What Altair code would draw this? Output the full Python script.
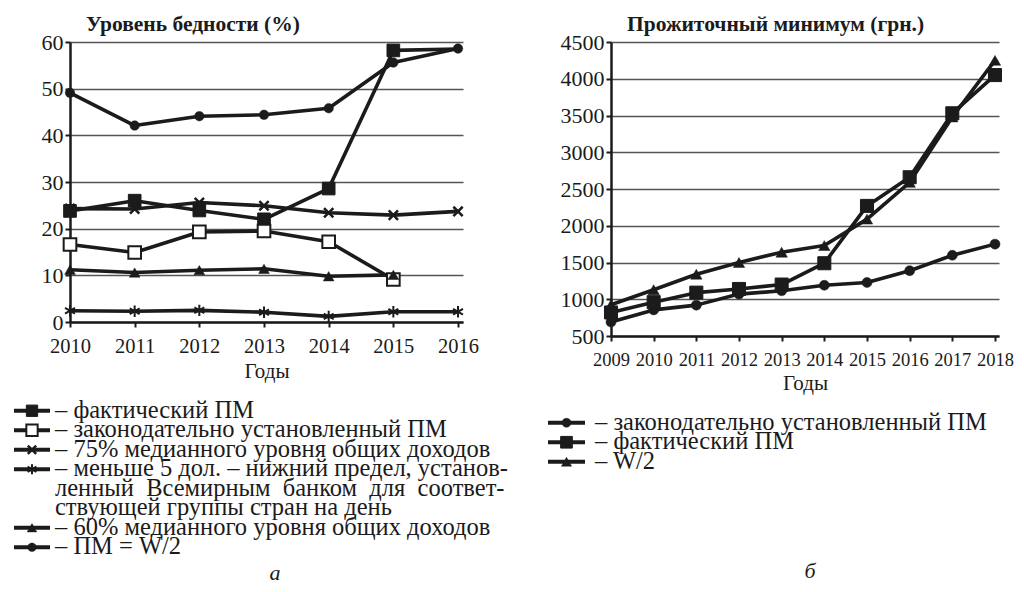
import altair as alt
import pandas as pd

FONT = "Liberation Serif"
INK = "#1b1b1b"

# ---------------- Panel a: poverty level (%) ----------------
years_a = [2010, 2011, 2012, 2013, 2014, 2015, 2016]
fact_a = [23.8, 26.0, 23.9, 22.0, 28.6, 58.2, 58.5]
fact_a_marker = [True, True, True, True, True, True, False]
legal_a = [16.6, 14.9, 19.3, 19.5, 17.2, 9.1, None]
p75_a = [24.3, 24.2, 25.6, 24.9, 23.4, 22.9, 23.7]
dol5_a = [2.4, 2.3, 2.5, 2.1, 1.2, 2.2, 2.2]
p60_a = [11.2, 10.6, 11.1, 11.4, 9.8, 10.1, None]
w2_a = [49.1, 42.1, 44.1, 44.4, 45.8, 55.6, 58.6]
yticks_a = [0, 10, 20, 30, 40, 50, 60]

legend_a_text = [
    "– фактический ПМ",
    "– законодательно установленный ПМ",
    "– 75% медианного уровня общих доходов",
    "– меньше 5 дол. – нижний предел, установ-",
    "ленный\u00a0\u00a0Всемирным\u00a0\u00a0банком\u00a0\u00a0для\u00a0\u00a0соответ-",
    "ствующей группы стран на день",
    "– 60% медианного уровня общих доходов",
    "– ПМ = W/2",
]
legend_a_keys = ["fact", "legal", "p75", "dol5", "", "", "p60", "w2"]

# ---------------- Panel b: subsistence minimum (UAH) ----------------
years_b = [2009, 2010, 2011, 2012, 2013, 2014, 2015, 2016, 2017, 2018]
legal_b = [690, 855, 920, 1070, 1115, 1190, 1228, 1388, 1598, 1750]
fact_b = [820, 960, 1090, 1140, 1200, 1490, 2270, 2660, 3530, 4050]
w2_b = [925, 1130, 1340, 1500, 1640, 1730, 2090, 2590, 3480, 4250]
yticks_b = [500, 1000, 1500, 2000, 2500, 3000, 3500, 4000, 4500]

legend_b_text = [
    "– законодательно установленный ПМ",
    "– фактический ПМ",
    "– W/2",
]
legend_b_keys = ["legal", "fact", "w2"]

ASTER = "M0,-1L0,1M-0.87,-0.5L0.87,0.5M-0.87,0.5L0.87,-0.5"
XMARK = "M-0.85,-0.85L0.85,0.85M-0.85,0.85L0.85,-0.85"
STYLES = {
    "fact": dict(shape="square", size=160, filled=True, fill=INK, stroke=INK, strokeWidth=1),
    "legal": dict(shape="square", size=160, filled=True, fill="white", stroke=INK, strokeWidth=2),
    "p75": dict(shape=XMARK, size=120, filled=False, stroke=INK, strokeWidth=2.5),
    "dol5": dict(shape=ASTER, size=130, filled=False, stroke=INK, strokeWidth=2),
    "p60": dict(shape="triangle-up", size=115, filled=True, fill=INK, stroke=INK, strokeWidth=0.5),
    "w2": dict(shape="circle", size=90, filled=True, fill=INK, stroke=INK, strokeWidth=0.5),
}
STYLES_B = {
    "legal": dict(shape="circle", size=100, filled=True, fill=INK, stroke=INK, strokeWidth=0.5),
    "fact": dict(shape="square", size=170, filled=True, fill=INK, stroke=INK, strokeWidth=1),
    "w2": dict(shape="triangle-up", size=130, filled=True, fill=INK, stroke=INK, strokeWidth=0.5),
}

LEG_FONT = 24.5


def long_frame(years, series, markers=None):
    markers = markers or {}
    rows = []
    for key, values in series.items():
        flags = markers.get(key, [True] * len(values))
        for yr, v, m in zip(years, values, flags):
            if v is not None:
                rows.append({"year": yr, "value": v, "series": key, "marker": m})
    return pd.DataFrame(rows)


def panel(df, styles, years, yticks, xdomain, ydomain, width, height, title, xfont):
    x = alt.X("year:Q", scale=alt.Scale(domain=xdomain, nice=False, zero=False),
              axis=alt.Axis(values=years, format="d", title="Годы", grid=False,
                            labelOverlap=False, labelFlush=False, labelFontSize=xfont))
    y = alt.Y("value:Q", scale=alt.Scale(domain=ydomain, nice=False, zero=False),
              axis=alt.Axis(values=yticks, format="d", title=None, grid=True,
                            labelOverlap=False, labelFlush=False))
    base = alt.Chart(df)
    lines = base.mark_line(color=INK, strokeWidth=3.6, strokeJoin="round").encode(
        x=x, y=y, detail="series:N")
    layers = [lines]
    for key, st in styles.items():
        layers.append(
            base.transform_filter((alt.datum.series == key) & alt.datum.marker)
            .mark_point(opacity=1, **st).encode(x=x, y=y)
        )
    return alt.layer(*layers).properties(
        width=width, height=height,
        title=alt.TitleParams(title, anchor="start", frame="group", dx=16, offset=-4,
                              font=FONT, fontSize=21.5, fontWeight="bold", color=INK),
    )


def legend(texts, keys, styles, dmax, height, width, sym_x0, sym_x1, text_x, cap, cap_row, cap_x):
    ldf = pd.DataFrame({"row": [i + 0.5 for i in range(len(texts))], "text": texts, "series": keys})
    y = alt.Y("row:Q", scale=alt.Scale(domain=[0, dmax], reverse=True, nice=False), axis=None)
    base = alt.Chart(ldf)
    layers = [
        base.transform_filter(alt.datum.series != "").mark_rule(color=INK, strokeWidth=4).encode(
            x=alt.value(sym_x0), x2=alt.value(sym_x1), y=y),
        base.mark_text(align="left", baseline="middle", font=FONT, fontSize=LEG_FONT, color=INK).encode(
            x=alt.value(text_x), y=y, text="text:N"),
    ]
    mid = (sym_x0 + sym_x1) / 2
    for key, st in styles.items():
        st2 = dict(st)
        st2["size"] = st["size"] * 0.8
        layers.append(base.transform_filter(alt.datum.series == key)
                      .mark_point(opacity=1, **st2).encode(x=alt.value(mid), y=y))
    cdf = pd.DataFrame({"row": [cap_row], "text": [cap]})
    layers.append(alt.Chart(cdf).mark_text(align="center", baseline="middle", font=FONT,
                                           fontSize=22, fontStyle="italic", color=INK)
                  .encode(x=alt.value(cap_x), y=y, text="text:N"))
    return alt.layer(*layers).properties(width=width, height=height)


df_a = long_frame(years_a, {"fact": fact_a, "legal": legal_a, "p75": p75_a, "dol5": dol5_a,
                            "p60": p60_a, "w2": w2_a}, {"fact": fact_a_marker})
df_b = long_frame(years_b, {"legal": legal_b, "fact": fact_b, "w2": w2_b})

plot_a = panel(df_a, STYLES, years_a, yticks_a, [2010, 2016.077], [0, 60], 393, 280,
               "Уровень бедности (%)", 20.5)
plot_b = panel(df_b, STYLES_B, years_b, yticks_b, [2009, 2018.094], [500, 4500], 388, 294,
               "Прожиточный минимум (грн.)", 18.5)

leg_a = legend(legend_a_text, legend_a_keys, STYLES, 9.2, 179.4, 445, -56, -20, -15,
               "а", 8.8, 205)
leg_b = legend(legend_b_text, legend_b_keys, STYLES_B, 8.4, 163.8, 388, -63, -26, -16,
               "б", 8.1, 199)

col_a = alt.vconcat(plot_a, leg_a, spacing=15)
col_b = alt.vconcat(plot_b, leg_b, spacing=15)

chart = (
    alt.hconcat(col_a, col_b, spacing=31)
    .properties(padding={"left": 4, "top": 5, "right": 0, "bottom": 0}, background="white")
    .configure_view(stroke=None)
    .configure_axis(
        labelFont=FONT, labelColor=INK, titleFont=FONT, titleColor=INK,
        titleFontWeight="normal", titleFontSize=21,
        domainColor=INK, domainWidth=2.5, tickColor=INK, tickWidth=2, tickSize=5,
        gridColor="#555555", gridWidth=1.3,
    )
    .configure_axisX(labelPadding=9, titlePadding=4)
    .configure_axisY(labelFontSize=22, labelPadding=2)
)

chart.save("out.html", embed_options={"renderer": "svg", "actions": False})
